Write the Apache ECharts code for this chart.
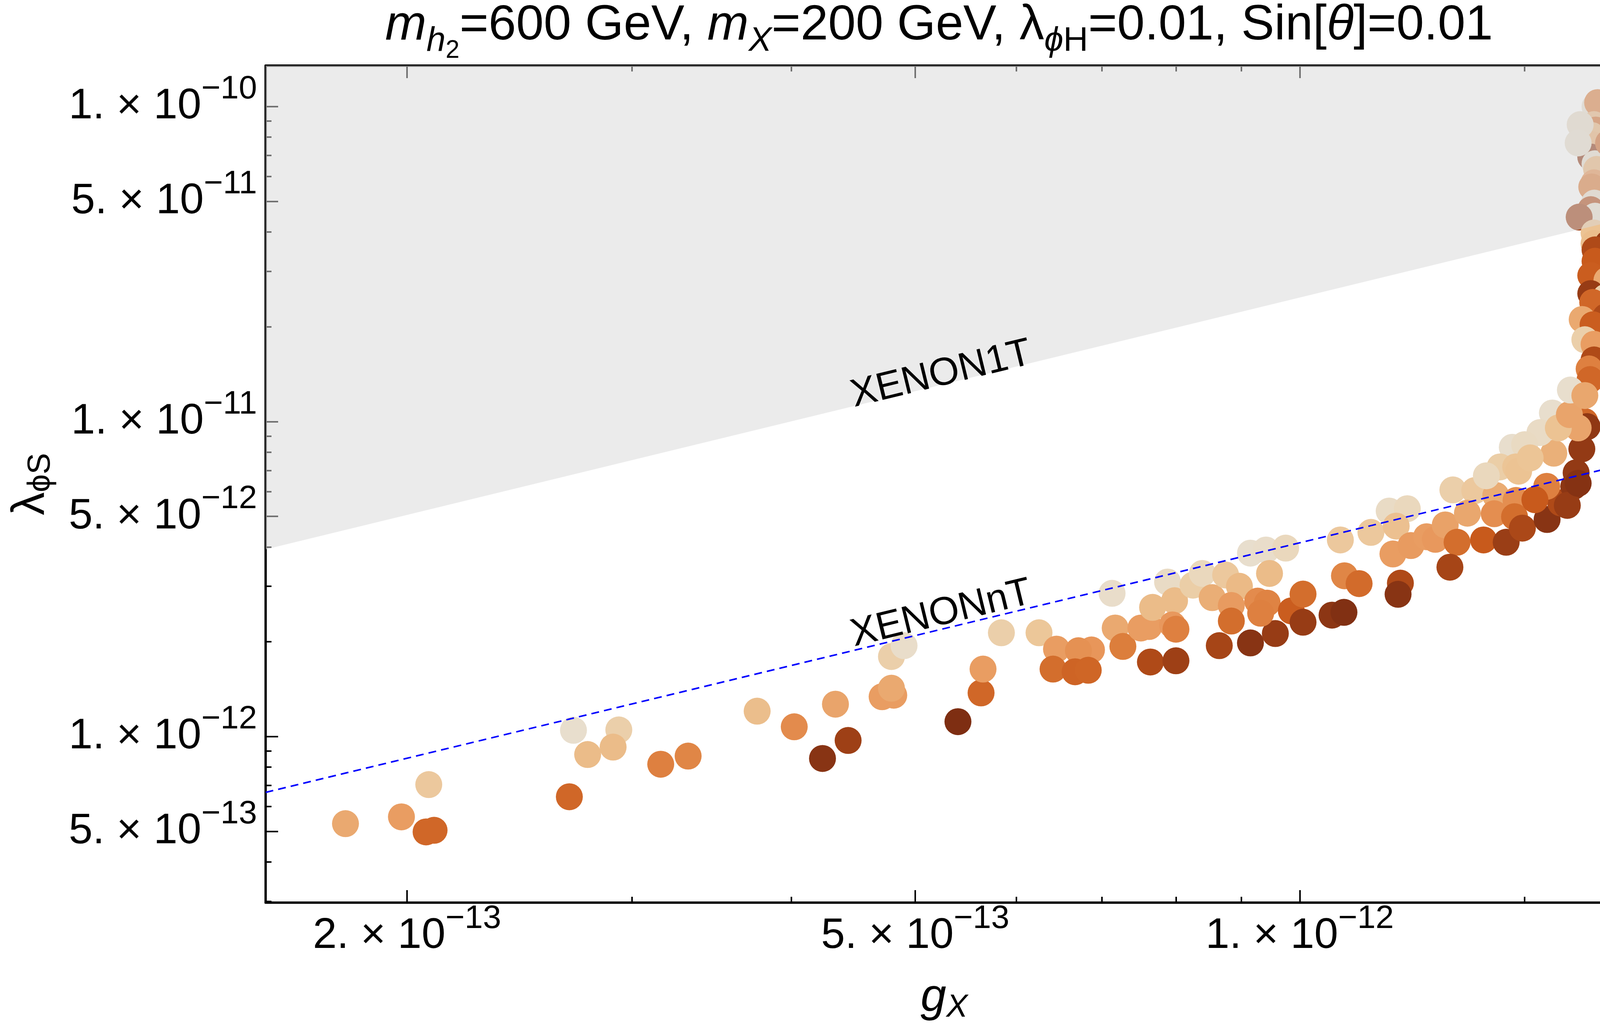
<!DOCTYPE html>
<html>
<head>
<meta charset="utf-8">
<script src="https://cdn.jsdelivr.net/npm/echarts@6/dist/echarts.min.js"></script>
<style>
html, body { margin: 0; padding: 0; background: #fff; }
#chart { width: 4596px; height: 2632px; }
</style>
</head>
<body>
<div id="chart"></div>
<script>
// all couplings below are in units of 1e-12
var S = 1e-12;
var FONT = '"Liberation Sans", Arial, Helvetica, sans-serif';

// scan points: g_X, lambda_phiS, m_phi (GeV)
var gX = [
  0.179, 0.198, 0.208, 0.207, 0.210, 0.268, 0.270, 0.293, 0.277, 0.290, 0.316, 0.332, 0.376, 0.402, 0.423,
  0.443, 0.433, 0.471, 0.481, 0.479, 0.479, 0.490, 0.540, 0.563, 0.565, 0.584, 0.625, 0.645, 0.687, 0.671,
  0.641, 0.667, 0.683, 0.713, 0.717, 0.727, 0.751, 0.762, 0.767, 0.764, 0.800, 0.788, 0.798, 0.795, 0.800,
  0.825, 0.839, 0.854, 0.875, 0.897, 0.884, 0.884, 0.865, 0.915, 0.957, 0.915, 0.941, 0.975, 0.947, 0.927,
  0.943, 0.932, 0.985, 1.006, 1.006,
  1.076, 1.137, 1.175, 1.214, 1.190, 1.183, 1.222, 1.257, 1.277, 1.300, 1.328, 1.393, 1.451, 1.311, 1.084,
  1.113, 1.199, 1.194, 1.060, 1.083, 1.318, 1.371, 1.424, 1.353, 1.420, 1.477, 1.473, 1.494, 1.562, 1.601,
  1.561, 1.581, 1.639, 1.646, 1.663, 1.672, 1.679, 1.652, 1.577, 1.542, 1.467, 1.500, 1.435, 1.476, 1.484,
  1.515, 1.400, 1.594, 1.626, 1.528, 1.620, 1.652,
  1.703, 1.711, 1.700, 1.705, 1.693, 1.693, 1.690, 1.703, 1.708, 1.700, 1.693, 1.701, 1.690, 1.703, 1.658,
  1.652, 1.655, 1.745, 1.700, 1.700, 1.744, 1.703, 1.703, 1.690, 1.740, 1.690, 1.736, 1.696, 1.736, 1.664,
  1.697, 1.672, 1.700, 1.700, 1.685, 1.688, 1.629, 1.672
];
var lamPhiS = [
  0.529, 0.556, 0.704, 0.498, 0.504, 0.644, 1.047, 1.050, 0.877, 0.926, 0.817, 0.867, 1.204, 1.074, 0.852,
  0.972, 1.267, 1.338, 1.353, 1.424, 1.795, 1.944, 1.115, 1.376, 1.638, 2.136, 2.136, 1.895, 1.884, 1.873,
  1.638, 1.606, 1.624, 2.850, 2.211, 1.933, 2.211, 2.236, 2.572, 1.725, 1.740, 3.095, 2.700, 2.262, 2.192,
  3.025, 3.296, 2.762, 3.258, 3.000, 2.608, 2.327, 1.944, 1.983, 2.124, 3.823, 3.911, 3.967, 3.296, 2.692,
  2.653, 2.464, 2.506, 2.834, 2.307,
  4.21, 4.45, 5.20, 5.29, 4.66, 3.80, 4.04, 4.31, 4.23, 4.70, 4.14, 4.21, 4.14, 3.45, 3.24,
  3.06, 3.07, 2.83, 2.43, 2.48, 6.07, 6.04, 5.83, 5.12, 5.10, 5.62, 4.99, 4.59, 4.89, 5.52,
  6.23, 7.94, 6.23, 6.88, 8.19, 10.0, 9.64, 9.55, 10.65, 9.23, 8.29, 8.45, 7.18, 7.18, 6.96,
  7.67, 6.73, 9.55, 10.53, 5.65, 5.42, 6.37,
  100, 103, 87.7, 84.3, 81.0, 75.8, 69.2, 65.9, 63.2, 57.3, 55.6, 49.4, 47.1, 44.9, 87.7,
  76.7, 44.6, 76.7, 39.7, 36.8, 36.8, 35.1, 32.3, 29.1, 28.1, 25.5, 24.8, 23.9, 21.5, 21.1,
  20.3, 18.2, 17.6, 15.7, 14.7, 13.6, 12.6, 12.1
];
var mPhi = [
  840, 815, 910, 720, 720, 720, 990, 930, 880, 880, 760, 770, 885, 780, 620,
  650, 830, 815, 815, 840, 930, 985, 605, 720, 815, 930, 905, 815, 800, 790,
  730, 715, 718, 985, 840, 755, 815, 815, 880, 670, 650, 975, 880, 805, 760,
  925, 960, 850, 910, 875, 810, 730, 660, 620, 640, 990, 985, 960, 880, 780,
  765, 760, 705, 730, 640,
  910, 910, 975, 960, 890, 815, 810, 815, 805, 825, 730, 700, 645, 660, 770,
  725, 670, 620, 625, 610, 930, 910, 845, 835, 785, 785, 730, 665, 620, 670,
  760, 855, 625, 635, 635, 720, 630, 830, 990, 975, 990, 970, 925, 900, 895,
  900, 960, 895, 830, 700, 640, 615,
  1000, 760, 865, 730, 860, 850, 625, 990, 860, 790, 750, 980, 670, 995, 980,
  990, 650, 720, 895, 885, 640, 670, 700, 705, 840, 640, 930, 720, 670, 840,
  705, 930, 815, 670, 760, 720, 990, 835
];

// exclusion limits (end points across the plotted g_X range)
var limitG = [0.155, 1.79];
var xenon1TLam = [3.93, 44.0];
var xenonNTLam = [0.665, 7.29];
var limitLabelText = ['XENON1T', 'XENONnT'];
var limitLabelG = [0.524, 0.524];
var limitLabelLam = [14.1, 2.45];

// axes
var xRange = [0.155, 1.79];
var yRange = [0.297, 135];
var xMajorTicks = [0.2, 0.5, 1];
var xMajorMant = ['2.', '5.', '1.'];
var xMajorExp = ['\u221213', '\u221213', '\u221212'];
var xMinorTicks = [0.3, 0.4, 0.6, 0.7, 0.8, 0.9, 1.5];
var yMajorTicks = [0.5, 1, 5, 10, 50, 100];
var yMajorMant = ['5.', '1.', '5.', '1.', '5.', '1.'];
var yMajorExp = ['\u221213', '\u221212', '\u221212', '\u221211', '\u221211', '\u221210'];
var yMinorTicks = [0.3, 0.4, 0.6, 0.7, 0.8, 0.9, 2, 3, 4, 6, 7, 8, 9, 20, 30, 40, 60, 70, 80, 90];

// colour bar m_phi
var cbMin = 600, cbMax = 1000, cbStep = 100;
var cbColors = ['#7a2c12', '#9e4016', '#c85a1c', '#db7b39', '#e8965a', '#eaae76', '#ecc596', '#ead6b8', '#e8e0d2'];

function scaled(arr) {
  return arr.map(function (v) { return v * S; });
}

function sciLabel(ticks, mant, expo) {
  return function (v) {
    for (var i = 0; i < ticks.length; i++) {
      if (Math.abs(Math.log10(v) - Math.log10(ticks[i] * S)) < 1e-6) {
        return '{m|' + mant[i] + ' \u00d7 10}{e|' + expo[i] + '}';
      }
    }
    return '';
  };
}

var labelRich = {
  m: { fontSize: 110, fontFamily: FONT, color: '#000' },
  e: { fontSize: 84, fontFamily: FONT, color: '#000', padding: [0, 0, 88, 0] }
};

function frameAxis(kind, pos, ticks, len, withLine, label) {
  var range = kind === 'x' ? xRange : yRange;
  return {
    type: 'log', logBase: 10, gridIndex: 0, position: pos,
    min: range[0] * S, max: range[1] * S,
    axisLine: { show: withLine, onZero: false, lineStyle: { color: '#000', width: 6 } },
    axisTick: { show: true, inside: true, length: len, customValues: scaled(ticks),
                lineStyle: { color: '#000', width: 4 } },
    axisLabel: label || { show: false },
    splitLine: { show: false },
    minorTick: { show: false },
    minorSplitLine: { show: false }
  };
}

var xBottom = frameAxis('x', 'bottom', xMajorTicks, 32, true, {
  show: true, customValues: scaled(xMajorTicks), margin: 0,
  formatter: sciLabel(xMajorTicks, xMajorMant, xMajorExp), rich: labelRich
});
xBottom.name = '{i|g}{s|X}';
xBottom.nameLocation = 'middle';
xBottom.nameGap = 178;
xBottom.nameTextStyle = {
  fontSize: 118, fontFamily: FONT, color: '#000',
  rich: {
    i: { fontSize: 118, fontFamily: FONT, fontStyle: 'italic', color: '#000' },
    s: { fontSize: 82, fontFamily: FONT, fontStyle: 'italic', color: '#000', padding: [50, 0, 0, 0] }
  }
};

var yLeft = frameAxis('y', 'left', yMajorTicks, 32, true, {
  show: true, customValues: scaled(yMajorTicks), margin: 22,
  formatter: sciLabel(yMajorTicks, yMajorMant, yMajorExp), rich: labelRich
});
yLeft.name = '{l|\u03bb}{s|\u03d5S}';
yLeft.nameLocation = 'middle';
yLeft.nameRotate = 90;
yLeft.nameGap = 535;
yLeft.nameTextStyle = {
  fontSize: 118, fontFamily: FONT, color: '#000',
  rich: {
    l: { fontSize: 118, fontFamily: FONT, color: '#000' },
    s: { fontSize: 82, fontFamily: FONT, color: '#000', padding: [50, 0, 0, 0] }
  }
};

var scatterData = gX.map(function (g, i) {
  return [g * S, lamPhiS[i] * S, mPhi[i]];
});

var chart = echarts.init(document.getElementById('chart'));

var option = {
  animation: false,
  backgroundColor: '#fff',
  grid: [
    { left: 680, top: 168, width: 3474, height: 2143 },
    { left: 4253, top: 208, width: 30, height: 1944 }
  ],
  xAxis: [
    xBottom,
    frameAxis('x', 'bottom', xMinorTicks, 15, false),
    frameAxis('x', 'top', xMajorTicks, 32, true),
    frameAxis('x', 'top', xMinorTicks, 15, false),
    { type: 'value', gridIndex: 1, show: false, min: 0, max: 1 }
  ],
  yAxis: [
    yLeft,
    frameAxis('y', 'left', yMinorTicks, 15, false),
    frameAxis('y', 'right', yMajorTicks, 32, true),
    frameAxis('y', 'right', yMinorTicks, 15, false),
    {
      type: 'value', gridIndex: 1, position: 'right',
      min: cbMin, max: cbMax, interval: cbStep,
      axisLine: { show: false },
      axisTick: { show: false },
      minorTick: { show: true, splitNumber: 5, length: 5, lineStyle: { color: '#888', width: 1.5 } },
      splitLine: { show: false },
      axisLabel: {
        margin: 2, fontSize: 98, fontFamily: FONT, color: '#000',
        formatter: function (v) { return String(v); }
      }
    }
  ],
  visualMap: {
    type: 'continuous', min: cbMin, max: cbMax, dimension: 2, seriesIndex: 0,
    calculable: false, hoverLink: false, showLabel: false,
    left: 4253, top: 208, itemWidth: 30, itemHeight: 1944, padding: 0,
    borderColor: '#8a8a8a', borderWidth: 2,
    inRange: { color: cbColors }
  },
  series: [
    {
      type: 'scatter', xAxisIndex: 0, yAxisIndex: 0,
      data: scatterData, symbol: 'circle', symbolSize: 69,
      itemStyle: { opacity: 1 }, z: 2, silent: true
    },
    {
      type: 'line', xAxisIndex: 0, yAxisIndex: 0,
      data: limitG.map(function (g, i) { return [g * S, xenon1TLam[i] * S]; }),
      symbol: 'none', lineStyle: { opacity: 0 },
      areaStyle: { origin: 'end', color: '#d8d8d8', opacity: 0.52 },
      z: 3, silent: true
    },
    {
      type: 'line', xAxisIndex: 0, yAxisIndex: 0,
      data: limitG.map(function (g, i) { return [g * S, xenonNTLam[i] * S]; }),
      symbol: 'none', lineStyle: { color: '#0000ff', width: 4, type: [20, 13] },
      z: 4, silent: true
    }
  ]
};
chart.setOption(option);

// limit labels follow the slope of the XENON1T boundary in pixels
var pa = chart.convertToPixel({ seriesIndex: 1 }, [limitG[0] * S, xenon1TLam[0] * S]);
var pb = chart.convertToPixel({ seriesIndex: 1 }, [limitG[1] * S, xenon1TLam[1] * S]);
var angle = Math.atan2(pa[1] - pb[1], pb[0] - pa[0]);

var graphics = limitLabelText.map(function (t, i) {
  var p = chart.convertToPixel({ seriesIndex: 1 }, [limitLabelG[i] * S, limitLabelLam[i] * S]);
  return {
    type: 'text', x: p[0], y: p[1], rotation: angle, z: 10,
    style: { text: t, fontSize: 100, fontFamily: FONT, fill: '#000', align: 'center', verticalAlign: 'middle' }
  };
});

graphics.push({
  type: 'text', x: 2404, y: 66, z: 10,
  style: {
    text: '{i|m}{s|h}{ss|2}{t|=600 GeV, }{i|m}{s|X}{t|=200 GeV, \u03bb}{s|\u03d5}{su|H}{t|=0.01, Sin[}{i|\u03b8}{t|]=0.01}',
    fontSize: 127, fontFamily: FONT, fill: '#000', align: 'center', verticalAlign: 'middle',
    rich: {
      t: { fontSize: 127, fontFamily: FONT, fill: '#000' },
      i: { fontSize: 127, fontFamily: FONT, fontStyle: 'italic', fill: '#000' },
      s: { fontSize: 88, fontFamily: FONT, fontStyle: 'italic', fill: '#000', padding: [80, 0, 0, 0] },
      su: { fontSize: 88, fontFamily: FONT, fill: '#000', padding: [80, 0, 0, 0] },
      ss: { fontSize: 64, fontFamily: FONT, fill: '#000', padding: [128, 0, 0, 0] }
    }
  }
});

graphics.push({
  type: 'text', x: 4182, y: 52, z: 10,
  style: {
    text: '{i|m}{s|\u03d5}{t|(GeV)}',
    fontSize: 100, fontFamily: FONT, fill: '#000', align: 'left', verticalAlign: 'middle',
    rich: {
      t: { fontSize: 100, fontFamily: FONT, fill: '#000' },
      i: { fontSize: 100, fontFamily: FONT, fontStyle: 'italic', fill: '#000' },
      s: { fontSize: 70, fontFamily: FONT, fontStyle: 'italic', fill: '#000', padding: [54, 0, 0, 0] }
    }
  }
});

chart.setOption({ graphic: graphics });
</script>
</body>
</html>
